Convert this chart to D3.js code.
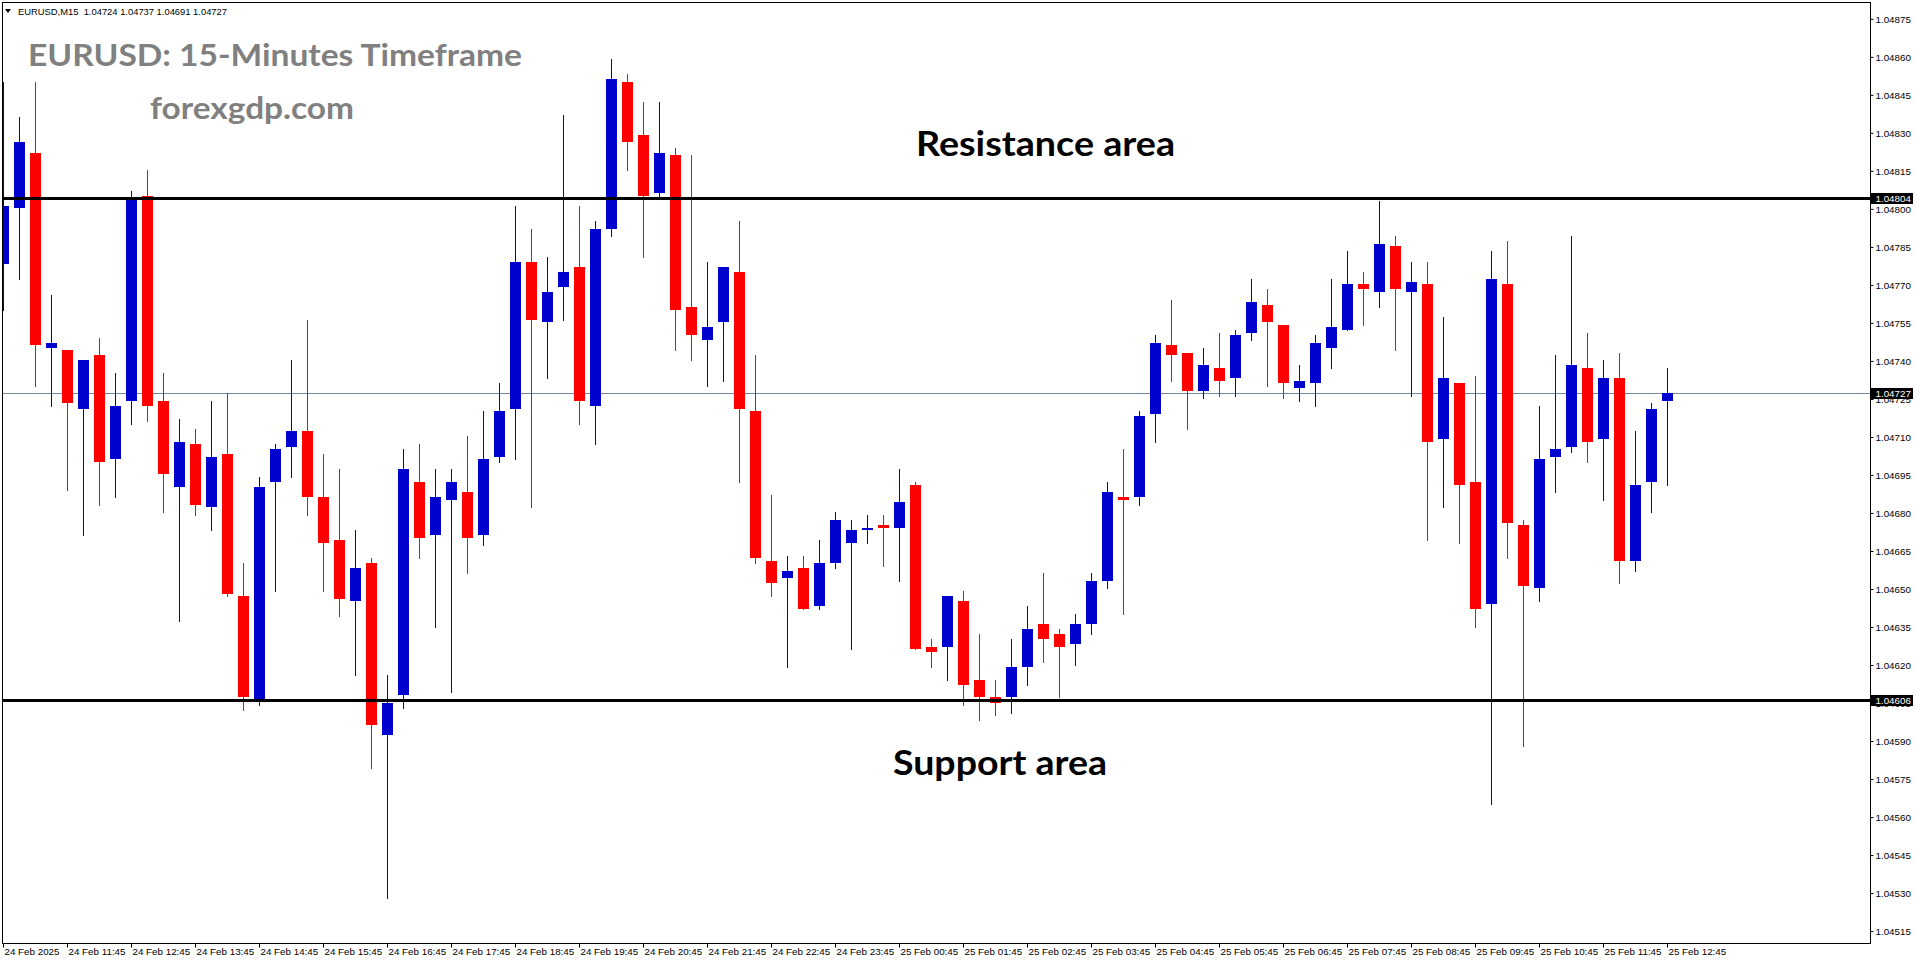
<!DOCTYPE html>
<html><head><meta charset="utf-8">
<script src="https://cdn.jsdelivr.net/npm/d3@7/dist/d3.min.js"></script>
<style>html,body{margin:0;padding:0;background:#fff;overflow:hidden}</style>
</head><body>
<svg id="c" width="1916" height="964" xmlns="http://www.w3.org/2000/svg"></svg>
<script>
// ---------- data ----------
const headerText = "EURUSD,M15  1.04724 1.04737 1.04691 1.04727";
const titleText = "EURUSD: 15-Minutes Timeframe";
const siteText = "forexgdp.com";
const resistanceText = "Resistance area";
const supportText = "Support area";
const firstBarTime = "2025-02-24T10:45:00";
const barCount = 105;

const opens = [1.04778,1.04800,1.04822,1.04745,1.04744,1.04721,1.04742,1.04701,1.04724,1.04805,
1.04724,1.04690,1.04707,1.04682,1.04703,1.04647,1.04606,1.04692,1.04706,1.04712,
1.04686,1.04669,1.04645,1.04660,1.04592,1.04608,1.04692,1.04671,1.04685,1.04688,
1.04671,1.04702,1.04721,1.04779,1.04755,1.04769,1.04777,1.04722,1.04792,1.04850,
1.04829,1.04806,1.04821,1.04761,1.04748,1.04755,1.04775,1.04720,1.04661,1.04654,
1.04658,1.04643,1.04660,1.04668,1.04673,1.04675,1.04674,1.04691,1.04627,1.04627,
1.04645,1.04614,1.04607,1.04607,1.04619,1.04636,1.04632,1.04628,1.04636,1.04653,
1.04686,1.04686,1.04719,1.04746,1.04743,1.04728,1.04737,1.04733,1.04751,1.04762,
1.04754,1.04729,1.04731,1.04745,1.04752,1.04770,1.04767,1.04785,1.04767,1.04770,
1.04709,1.04731,1.04692,1.04644,1.04770,1.04675,1.04650,1.04702,1.04706,1.04737,
1.04709,1.04733,1.04661,1.04692,1.04724];
const highs = [1.04850,1.04836,1.04850,1.04766,1.04744,1.04740,1.04749,1.04735,1.04807,1.04815,
1.04735,1.04717,1.04713,1.04724,1.04727,1.04660,1.04694,1.04707,1.04740,1.04756,
1.04703,1.04697,1.04673,1.04662,1.04616,1.04705,1.04707,1.04697,1.04697,1.04710,
1.04720,1.04731,1.04801,1.04792,1.04781,1.04837,1.04801,1.04795,1.04859,1.04853,
1.04842,1.04842,1.04824,1.04821,1.04779,1.04777,1.04795,1.04742,1.04687,1.04663,
1.04663,1.04669,1.04680,1.04677,1.04679,1.04679,1.04697,1.04692,1.04630,1.04647,
1.04649,1.04632,1.04614,1.04630,1.04643,1.04656,1.04634,1.04640,1.04656,1.04692,
1.04705,1.04720,1.04750,1.04764,1.04743,1.04745,1.04751,1.04752,1.04772,1.04768,
1.04754,1.04738,1.04750,1.04772,1.04783,1.04775,1.04803,1.04789,1.04779,1.04779,
1.04757,1.04731,1.04734,1.04783,1.04787,1.04677,1.04722,1.04742,1.04789,1.04751,
1.04740,1.04743,1.04712,1.04723,1.04737];
const lows = [1.04760,1.04772,1.04730,1.04722,1.04689,1.04671,1.04683,1.04686,1.04715,1.04716,
1.04680,1.04637,1.04679,1.04673,1.04647,1.04602,1.04604,1.04649,1.04694,1.04679,
1.04649,1.04639,1.04616,1.04579,1.04528,1.04603,1.04662,1.04635,1.04609,1.04656,
1.04667,1.04700,1.04701,1.04682,1.04733,1.04756,1.04715,1.04707,1.04789,1.04815,
1.04781,1.04805,1.04744,1.04740,1.04730,1.04732,1.04692,1.04660,1.04647,1.04619,
1.04642,1.04642,1.04658,1.04626,1.04668,1.04659,1.04653,1.04626,1.04619,1.04614,
1.04604,1.04598,1.04600,1.04601,1.04612,1.04621,1.04607,1.04620,1.04632,1.04650,
1.04640,1.04683,1.04708,1.04732,1.04713,1.04725,1.04726,1.04726,1.04748,1.04730,
1.04725,1.04724,1.04722,1.04737,1.04752,1.04754,1.04761,1.04744,1.04726,1.04669,
1.04682,1.04668,1.04635,1.04565,1.04662,1.04588,1.04645,1.04688,1.04704,1.04700,
1.04685,1.04652,1.04657,1.04680,1.04691];
const closes = [1.04801,1.04826,1.04746,1.04747,1.04723,1.04740,1.04700,1.04722,1.04804,1.04722,
1.04695,1.04708,1.04683,1.04702,1.04648,1.04607,1.04690,1.04705,1.04712,1.04686,
1.04668,1.04646,1.04658,1.04596,1.04605,1.04697,1.04670,1.04686,1.04692,1.04670,
1.04701,1.04720,1.04779,1.04756,1.04767,1.04775,1.04724,1.04792,1.04851,1.04826,
1.04805,1.04822,1.04760,1.04750,1.04753,1.04777,1.04721,1.04662,1.04652,1.04657,
1.04642,1.04660,1.04677,1.04673,1.04674,1.04674,1.04684,1.04626,1.04625,1.04647,
1.04612,1.04607,1.04605,1.04619,1.04634,1.04630,1.04627,1.04636,1.04653,1.04688,
1.04685,1.04718,1.04747,1.04742,1.04728,1.04738,1.04732,1.04750,1.04763,1.04755,
1.04731,1.04732,1.04747,1.04753,1.04770,1.04768,1.04786,1.04768,1.04771,1.04708,
1.04733,1.04691,1.04642,1.04772,1.04676,1.04651,1.04701,1.04705,1.04738,1.04708,
1.04733,1.04661,1.04691,1.04721,1.04727];

const timeTickLabels = ["24 Feb 2025","24 Feb 11:45","24 Feb 12:45","24 Feb 13:45","24 Feb 14:45",
"24 Feb 15:45","24 Feb 16:45","24 Feb 17:45","24 Feb 18:45","24 Feb 19:45","24 Feb 20:45",
"24 Feb 21:45","24 Feb 22:45","24 Feb 23:45","25 Feb 00:45","25 Feb 01:45","25 Feb 02:45",
"25 Feb 03:45","25 Feb 04:45","25 Feb 05:45","25 Feb 06:45","25 Feb 07:45","25 Feb 08:45",
"25 Feb 09:45","25 Feb 10:45","25 Feb 11:45","25 Feb 12:45"];
const timeTickBars = [0,4,8,12,16,20,24,28,32,36,40,44,48,52,56,60,64,68,72,76,80,84,88,92,96,100,104];

const priceTicks = [1.04515,1.04530,1.04545,1.04560,1.04575,1.04590,1.04605,1.04620,1.04635,
1.04650,1.04665,1.04680,1.04695,1.04710,1.04725,1.04740,1.04755,1.04770,1.04785,1.04800,
1.04815,1.04830,1.04845,1.04860,1.04875];

const resistanceLevel = 1.04804;
const supportLevel = 1.04606;
const bidLevel = 1.04727;

// ---------- build ----------
const t0 = new Date(firstBarTime);
const barTimes = [];
for (let i = 0; i < barCount; i++) barTimes.push(d3.timeMinute.offset(t0, 15 * i));
const bars = barTimes.map((t, i) => ({i, t, o: opens[i], h: highs[i], l: lows[i], c: closes[i]}));

const svg = d3.select("#c");
const plotL = 2, plotR = 1870, plotT = 2, plotB = 943;
const BLUE = "#0000cd", RED = "#ff0000";
const axisFont = "'Liberation Sans', Arial, sans-serif";

const x = d3.scaleLinear().domain([0, barCount - 1]).range([3.3, 1667.3]);
const y = d3.scaleLinear().domain([1.04515, 1.04875]).range([930.6, 18.3]);

svg.append("rect").attr("width", 1916).attr("height", 964).attr("fill", "#fff");

const clip = svg.append("defs").append("clipPath").attr("id", "plotclip")
  .append("rect").attr("x", plotL + 0.5).attr("y", plotT + 0.5)
  .attr("width", plotR - plotL - 0.5).attr("height", plotB - plotT - 0.5);

const plot = svg.append("g").attr("clip-path", "url(#plotclip)");

// bid line (behind candles)
plot.append("line")
  .attr("x1", plotL).attr("x2", plotR)
  .attr("y1", Math.round(y(bidLevel)) + 0.5).attr("y2", Math.round(y(bidLevel)) + 0.5)
  .attr("stroke", "#778899").attr("stroke-width", 1);

// candles
const cg = plot.append("g");
const cx = d => Math.round(x(d.i));
cg.selectAll("line.wick").data(bars).join("line").attr("class", "wick")
  .attr("x1", d => cx(d) + 0.5).attr("x2", d => cx(d) + 0.5)
  .attr("y1", d => Math.round(y(d.h))).attr("y2", d => Math.round(y(d.l)) + 1)
  .attr("stroke", d => d.c >= d.o ? BLUE : RED).attr("stroke-width", 1);
cg.selectAll("rect.body").data(bars).join("rect").attr("class", "body")
  .attr("x", d => cx(d) - 5).attr("width", 11)
  .attr("y", d => Math.round(y(Math.max(d.o, d.c))))
  .attr("height", d => Math.max(2, Math.round(y(Math.min(d.o, d.c))) - Math.round(y(Math.max(d.o, d.c)))))
  .attr("fill", d => d.c >= d.o ? BLUE : RED);

// support / resistance lines (on top)
[resistanceLevel, supportLevel].forEach(v => {
  plot.append("line").attr("x1", plotL).attr("x2", plotR)
    .attr("y1", Math.round(y(v)) + 0.5).attr("y2", Math.round(y(v)) + 0.5)
    .attr("stroke", "#000").attr("stroke-width", 3);
});

// frame
svg.append("rect").attr("x", plotL + 0.5).attr("y", plotT + 0.5)
  .attr("width", plotR - plotL).attr("height", plotB - plotT)
  .attr("fill", "none").attr("stroke", "#000").attr("stroke-width", 1);

// right price axis
const ya = d3.axisRight(y).tickValues(priceTicks).tickSize(3).tickSizeOuter(0).tickPadding(2)
  .tickFormat(d3.format(".5f"));
const yg = svg.append("g").attr("transform", `translate(${plotR + 0.5},0.5)`).call(ya);
yg.select(".domain").remove();
yg.selectAll(".tick line").attr("stroke", "#000");
yg.selectAll(".tick text").attr("font-family", axisFont).attr("font-size", 9.8)
  .attr("fill", "#000").attr("dy", "0.34em");

// highlighted price labels
[resistanceLevel, bidLevel, supportLevel].forEach(v => {
  const yy = Math.round(y(v));
  svg.append("rect").attr("x", plotR + 1).attr("y", yy - 5).attr("width", 42).attr("height", 11).attr("fill", "#000");
  svg.append("text").attr("x", plotR + 5.5).attr("y", yy + 4)
    .attr("font-family", axisFont).attr("font-size", 9.8).attr("fill", "#fff")
    .text(d3.format(".5f")(v));
});

// bottom time axis
const xa = d3.axisBottom(x).tickValues(timeTickBars).tickSize(4).tickSizeOuter(0).tickPadding(2)
  .tickFormat((d, k) => timeTickLabels[k]);
const xg = svg.append("g").attr("transform", `translate(0.5,${plotB + 0.5})`).call(xa);
xg.select(".domain").remove();
xg.selectAll(".tick").attr("transform", d => `translate(${Math.round(x(d))},0)`);
xg.selectAll(".tick line").attr("stroke", "#000");
xg.selectAll(".tick text").attr("font-family", axisFont).attr("font-size", 9.8)
  .attr("fill", "#000").attr("text-anchor", "start").attr("x", 1).attr("y", 5).attr("dy", "0.71em");

// header
svg.append("path").attr("d", "M5,9 L11,9 L8,13 Z").attr("fill", "#000");
svg.append("text").attr("x", 18).attr("y", 14.5).attr("font-family", axisFont).attr("font-size", 9.4)
  .attr("fill", "#000").attr("xml:space", "preserve").style("white-space", "pre").text(headerText);

// annotations
const annFont = "Lato, 'Open Sans', sans-serif";
svg.append("text").attr("x", 28).attr("y", 66).attr("font-family", annFont).attr("font-weight", 700)
  .attr("font-size", 30.5).attr("fill", "#808080").attr("textLength", 494).attr("lengthAdjust", "spacingAndGlyphs")
  .text(titleText);
svg.append("text").attr("x", 150).attr("y", 119).attr("font-family", annFont).attr("font-weight", 700)
  .attr("font-size", 30.5).attr("fill", "#808080").attr("textLength", 204).attr("lengthAdjust", "spacingAndGlyphs")
  .text(siteText);
svg.append("text").attr("x", 916).attr("y", y(resistanceLevel) - 42.5).attr("font-family", annFont).attr("font-weight", 700)
  .attr("font-size", 35).attr("fill", "#000").attr("textLength", 259).attr("lengthAdjust", "spacingAndGlyphs")
  .text(resistanceText);
svg.append("text").attr("x", 893).attr("y", y(supportLevel) + 75).attr("font-family", annFont).attr("font-weight", 700)
  .attr("font-size", 35).attr("fill", "#000").attr("textLength", 214).attr("lengthAdjust", "spacingAndGlyphs")
  .text(supportText);
</script>
</body></html>
